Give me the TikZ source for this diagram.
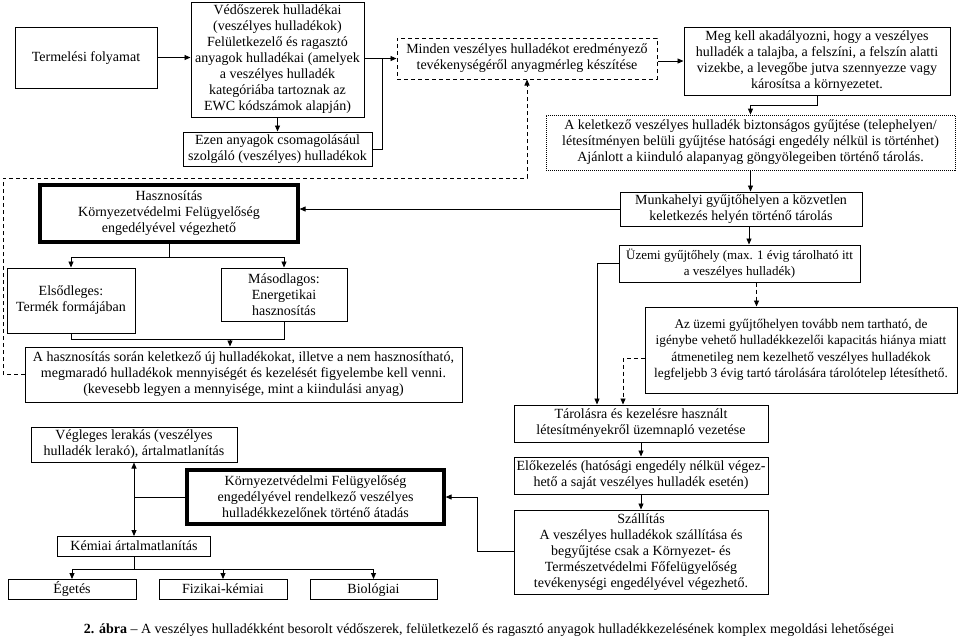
\documentclass[tikz,border=0pt]{standalone}
\usepackage{fontspec}
\setmainfont{Liberation Serif}
\usetikzlibrary{arrows.meta,calc}
\begin{document}
\begin{tikzpicture}[x=1pt,y=-1pt,
 box/.style={draw, line width=1pt, align=center, inner sep=0pt, font=\fontsize{14}{16}\selectfont},
 onebox/.style={box, text height=10pt, text depth=3pt},
 thickbox/.style={box, line width=3.2pt},
 dbox/.style={box, dash pattern=on 4pt off 3pt},
 dotbox/.style={box, line width=0.8pt, dash pattern=on 1pt off 1pt},
 tip/.tip={Triangle[length=6pt,width=5pt]},
 con/.style={line width=0.9pt},
 arr/.style={con, -tip},
 dcon/.style={con, dash pattern=on 4pt off 3pt},
 darr/.style={arr, dash pattern=on 4pt off 3pt}]
\useasboundingbox (0,0) rectangle (960,641);

% top row
\node[onebox, minimum width=142pt, minimum height=61pt] (term) at (86,57.5) {Termelési folyamat};
\node[box, minimum width=173pt, minimum height=115pt] (vedo) at (277.5,59.5) {Védőszerek hulladékai\\(veszélyes hulladékok)\\Felületkezelő és ragasztó\\anyagok hulladékai (amelyek\\a veszélyes hulladék\\kategóriába tartoznak az\\EWC kódszámok alapján)};
\node[box, minimum width=189pt, minimum height=34pt] (ezen) at (277.5,149) {Ezen anyagok csomagolásául\\szolgáló (veszélyes) hulladékok};
\node[dbox, minimum width=260pt, minimum height=41pt] (minden) at (527,58.5) {Minden veszélyes hulladékot eredményező\\tevékenységéről anyagmérleg készítése};
\node[box, minimum width=266pt, minimum height=68pt] (megkell) at (817,61) {Meg kell akadályozni, hogy a veszélyes\\hulladék a talajba, a felszíni, a felszín alatti\\vizekbe, a levegőbe jutva szennyezze vagy\\károsítsa a környezetet.};
\node[dotbox, minimum width=409pt, minimum height=55pt] (kelet) at (750.5,142.5) {A keletkező veszélyes hulladék biztonságos gyűjtése (telephelyen/\\létesítményen belüli gyűjtése hatósági engedély nélkül is történhet)\\Ajánlott a kiinduló alapanyag göngyölegeiben történő tárolás.};

% middle left
\node[thickbox, minimum width=258pt, minimum height=57pt] (haszn) at (169,213.5) {Hasznosítás\\Környezetvédelmi Felügyelőség\\engedélyével végezhető};
\node[box, minimum width=128pt, minimum height=65pt] (elso) at (71,300.5) {Elsődleges:\\Termék formájában};
\node[box, minimum width=126pt, minimum height=53pt] (masod) at (284,294.5) {Másodlagos:\\Energetikai\\hasznosítás};
\node[box, minimum width=437pt, minimum height=55pt] (ahaszn) at (243.5,374.5) {A hasznosítás során keletkező új hulladékokat, illetve a nem hasznosítható,\\megmaradó hulladékok mennyiségét és kezelését figyelembe kell venni.\\(kevesebb legyen a mennyisége, mint a kiindulási anyag)};

% bottom left
\node[box, minimum width=206pt, minimum height=35pt] (vegl) at (134,444.5) {Végleges lerakás (veszélyes\\hulladék lerakó), ártalmatlanítás};
\node[thickbox, minimum width=257pt, minimum height=54pt] (korny) at (315.5,497) {Környezetvédelmi Felügyelőség\\engedélyével rendelkező veszélyes\\hulladékkezelőnek történő átadás};
\node[onebox, minimum width=153pt, minimum height=20pt] (kemiai) at (134,546.5) {Kémiai ártalmatlanítás};
\node[onebox, minimum width=128pt, minimum height=20pt] (eget) at (72,589.5) {Égetés};
\node[onebox, minimum width=128pt, minimum height=20pt] (fiz) at (223,589.5) {Fizikai-kémiai};
\node[onebox, minimum width=127pt, minimum height=20pt] (bio) at (373.5,589.5) {Biológiai};

% right column
\node[box, minimum width=242pt, minimum height=34pt] (munka) at (741,209) {Munkahelyi gyűjtőhelyen a közvetlen\\keletkezés helyén történő tárolás};
\node[box, font=\fontsize{13}{16}\selectfont, minimum width=241pt, minimum height=37pt] (uzemi) at (739.5,263.5) {Üzemi gyűjtőhely (max. 1 évig tárolható itt\\a veszélyes hulladék)};
\node[box, font=\fontsize{13.3}{16.5}\selectfont, minimum width=312pt, minimum height=86pt] (azuz) at (801,350) {Az üzemi gyűjtőhelyen tovább nem tartható, de\\igénybe vehető hulladékkezelői kapacitás hiánya miatt\\átmenetileg nem kezelhető veszélyes hulladékok\\legfeljebb 3 évig tartó tárolására tárolótelep létesíthető.};
\node[box, minimum width=254pt, minimum height=37pt] (tarol) at (641,423.5) {Tárolásra és kezelésre használt\\létesítményekről üzemnapló vezetése};
\node[box, minimum width=254pt, minimum height=37pt] (elok) at (641,475.5) {Előkezelés (hatósági engedély nélkül végez-\\hető a saját veszélyes hulladék esetén)};
\node[box, minimum width=254pt, minimum height=84pt] (szall) at (641,552) {Szállítás\\A veszélyes hulladékok szállítása és\\begyűjtése csak a Környezet- és\\Természetvédelmi Főfelügyelőség\\tevékenységi engedélyével végezhető.};

% caption
\node[font=\fontsize{14}{16}\selectfont, inner sep=0pt] (cap) at (489,630) {\textbf{2. ábra} – A veszélyes hulladékként besorolt védőszerek, felületkezelő és ragasztó anyagok hulladékkezelésének komplex megoldási lehetőségei};

% helper coordinates
\coordinate (j1) at (382,58.5);
\coordinate (d1) at (3,178);
\coordinate (jn) at (230,339);

% connectors top
\draw[arr] (term.east) -- (term.east -| vedo.west);
\draw[arr] (vedo.south) -- (ezen.north);
\draw[arr] (vedo.east |- minden.west) -- (minden.west);
\draw[con] (ezen.east) -| (j1);
\draw[arr] (minden.east |- megkell.west) -- (megkell.west);
\draw[arr] (megkell.south) -- ++(0,10) -| (kelet.north);
\draw[arr] (kelet.south) -- (kelet.south |- munka.north);
\draw[arr] (munka.west) -- (munka.west -| haszn.east);
\draw[arr] ([xshift=8pt]munka.south) -- ([xshift=8pt]munka.south |- uzemi.north);
\draw[darr] ([xshift=17pt]uzemi.south) -- ([xshift=17pt]uzemi.south |- azuz.north);
\draw[arr] (uzemi.west) -| ([xshift=-44pt]tarol.north);
\draw[darr] ([yshift=-8pt]azuz.west) -| ([xshift=-18pt]tarol.north);
\draw[arr] (tarol.south) -- (elok.north);
\draw[arr] (elok.south) -- (szall.north);
\draw[arr] ([yshift=1pt]szall.west) -- ++(-36,0) |- (korny.east);

% dashed feedback
\draw[darr] (ahaszn.west) -| (d1) -| (minden.south);

% hasznositas tree
\draw[con] (haszn.south) -- ++(0,14) coordinate (s1);
\draw[arr] (s1) -| (elso.north);
\draw[arr] (s1) -| (masod.north);
\draw[con] (elso.south) |- (jn) -| (masod.south);
\draw[arr] (jn) -- (jn |- ahaszn.north);

% bottom left tree
\draw[con] (korny.west) -- (korny.west -| vegl.south);
\draw[con, tip-tip] (vegl.south) -- (vegl.south |- kemiai.north);
\draw[con] (kemiai.south) -- ++(0,12) coordinate (k1);
\draw[arr] (k1) -| (eget.north);
\draw[arr] (k1) -| (fiz.north);
\draw[arr] (k1) -| (bio.north);
\end{tikzpicture}
\end{document}
